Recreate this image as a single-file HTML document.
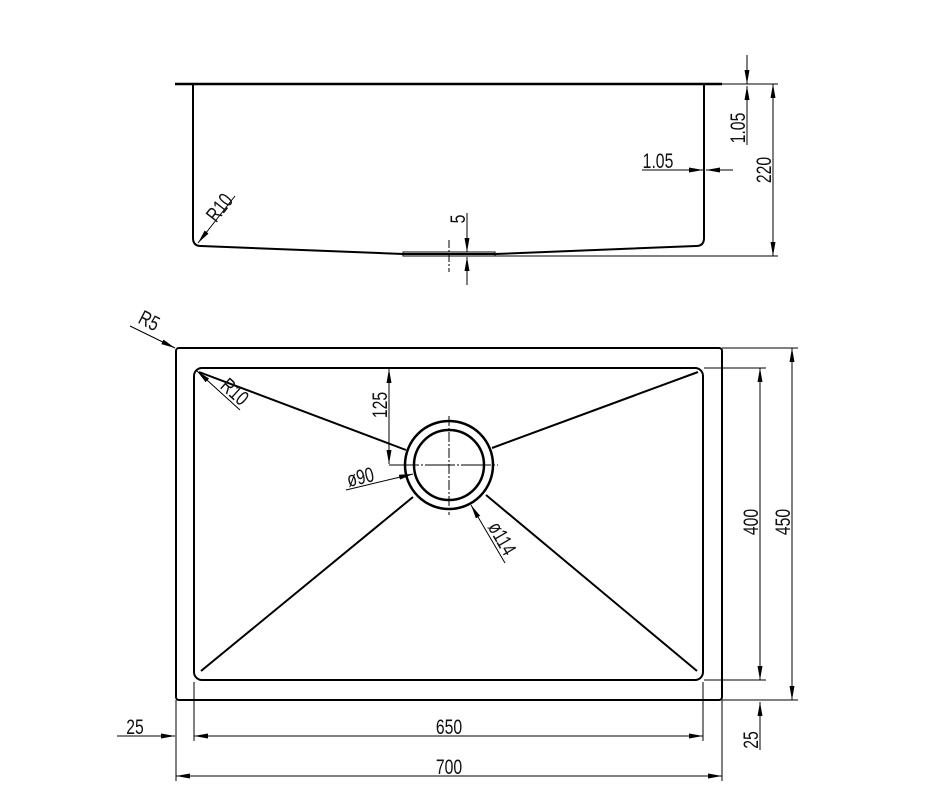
<!DOCTYPE html>
<html><head><style>
html,body{margin:0;padding:0;background:#fff;}
svg{display:block}
text{font-family:"Liberation Sans",sans-serif;font-size:21px;fill:#111;}
</style></head><body>
<svg width="940" height="808" viewBox="0 0 940 808" xmlns="http://www.w3.org/2000/svg">
<defs>
<marker id="a" markerWidth="14" markerHeight="6" refX="14" refY="3" orient="auto" markerUnits="userSpaceOnUse">
<path d="M0,0.5 L14,3 L0,5.5 Z" fill="#000"/></marker>
</defs>
<g stroke="#000" fill="none">
<line x1="175" y1="84" x2="722" y2="84" stroke-width="2.5"/>
<path d="M193,85 L193,238 Q193,246 201,246 L403,254 L495,254 L696,246 Q704,246 704,238 L704,85" stroke-width="2"/>
<rect x="403" y="252" width="92" height="4" stroke-width="1"/>
<line x1="705" y1="84" x2="778" y2="84" stroke-width="1"/>
<line x1="495" y1="256" x2="778" y2="256" stroke-width="1"/>
<line x1="773" y1="256" x2="773" y2="84" stroke-width="1" marker-end="url(#a)"/>
<line x1="773" y1="150" x2="773" y2="256" stroke-width="1" marker-end="url(#a)"/>
<line x1="747" y1="55" x2="747" y2="84" stroke-width="1" marker-end="url(#a)"/>
<line x1="747" y1="145" x2="747" y2="86" stroke-width="1" marker-end="url(#a)"/>
<line x1="642" y1="170" x2="703" y2="170" stroke-width="1" marker-end="url(#a)"/>
<line x1="733" y1="170" x2="706" y2="170" stroke-width="1" marker-end="url(#a)"/>
<line x1="235" y1="196" x2="198" y2="243" stroke-width="1" marker-end="url(#a)"/>
<line x1="467" y1="213" x2="467" y2="252" stroke-width="1" marker-end="url(#a)"/>
<line x1="467" y1="285" x2="467" y2="257" stroke-width="1" marker-end="url(#a)"/>
<line x1="449" y1="240" x2="449" y2="272" stroke-width="1" stroke-dasharray="8,2,2,2"/>

<rect x="176" y="348" width="546" height="352" rx="3" stroke-width="2"/>
<rect x="194" y="368" width="509" height="312" rx="8" stroke-width="2"/>
<circle cx="449" cy="465" r="44" stroke-width="2.5"/>
<circle cx="449" cy="465" r="35" stroke-width="2.5"/>
<line x1="449" y1="416" x2="449" y2="515" stroke-width="1" stroke-dasharray="10,2,2,2"/>
<line x1="389" y1="465" x2="498" y2="465" stroke-width="1" stroke-dasharray="30,2,2,2"/>
<line x1="199" y1="372" x2="406" y2="450" stroke-width="2"/>
<line x1="698" y1="372" x2="492" y2="448" stroke-width="2"/>
<line x1="201" y1="671" x2="413" y2="497" stroke-width="2"/>
<line x1="697" y1="671" x2="486" y2="495" stroke-width="2"/>
<line x1="389" y1="420" x2="389" y2="369" stroke-width="1" marker-end="url(#a)"/>
<line x1="389" y1="420" x2="389" y2="464" stroke-width="1" marker-end="url(#a)"/>
<line x1="346" y1="490" x2="413" y2="474" stroke-width="1" marker-end="url(#a)"/>
<line x1="505" y1="563" x2="471" y2="505" stroke-width="1" marker-end="url(#a)"/>
<line x1="130" y1="326" x2="175" y2="348" stroke-width="1" marker-end="url(#a)"/>
<line x1="240" y1="410" x2="197" y2="371" stroke-width="1" marker-end="url(#a)"/>
<line x1="704" y1="368" x2="766" y2="368" stroke-width="1"/>
<line x1="704" y1="680" x2="766" y2="680" stroke-width="1"/>
<line x1="760" y1="520" x2="760" y2="368" stroke-width="1" marker-end="url(#a)"/>
<line x1="760" y1="520" x2="760" y2="680" stroke-width="1" marker-end="url(#a)"/>
<line x1="722" y1="348" x2="798" y2="348" stroke-width="1"/>
<line x1="722" y1="700" x2="798" y2="700" stroke-width="1"/>
<line x1="792" y1="520" x2="792" y2="348" stroke-width="1" marker-end="url(#a)"/>
<line x1="792" y1="520" x2="792" y2="700" stroke-width="1" marker-end="url(#a)"/>
<line x1="760" y1="750" x2="760" y2="702" stroke-width="1" marker-end="url(#a)"/>
<line x1="194" y1="682" x2="194" y2="741" stroke-width="1"/>
<line x1="703" y1="682" x2="703" y2="741" stroke-width="1"/>
<line x1="176" y1="700" x2="176" y2="781" stroke-width="1"/>
<line x1="722" y1="700" x2="722" y2="781" stroke-width="1"/>
<line x1="450" y1="736" x2="194" y2="736" stroke-width="1" marker-end="url(#a)"/>
<line x1="450" y1="736" x2="703" y2="736" stroke-width="1" marker-end="url(#a)"/>
<line x1="450" y1="776" x2="176" y2="776" stroke-width="1" marker-end="url(#a)"/>
<line x1="450" y1="776" x2="722" y2="776" stroke-width="1" marker-end="url(#a)"/>
<line x1="117" y1="736" x2="175" y2="736" stroke-width="1" marker-end="url(#a)"/>
</g>
<g>
<text transform="translate(771,170) rotate(-90) scale(0.75,1)" text-anchor="middle">220</text>
<text transform="translate(745,128) rotate(-90) scale(0.75,1)" text-anchor="middle">1.05</text>
<text transform="translate(658,168) scale(0.75,1)" text-anchor="middle">1.05</text>
<line x1="642" y1="170" x2="676" y2="170" stroke="#000"/>
<text transform="translate(225,212) rotate(-52) scale(0.75,1)" text-anchor="middle">R10</text>
<text transform="translate(465,219) rotate(-90) scale(0.75,1)" text-anchor="middle">5</text>
<text transform="translate(146,327) rotate(27) scale(0.75,1)" text-anchor="middle">R5</text>
<text transform="translate(230,397) rotate(42) scale(0.75,1)" text-anchor="middle">R10</text>
<text transform="translate(387,405) rotate(-90) scale(0.75,1)" text-anchor="middle">125</text>
<text transform="translate(362,484) rotate(-13) scale(0.75,1)" text-anchor="middle">ø90</text>
<text transform="translate(496,542) rotate(60) scale(0.75,1)" text-anchor="middle">ø114</text>
<text transform="translate(758,522) rotate(-90) scale(0.75,1)" text-anchor="middle">400</text>
<text transform="translate(790,522) rotate(-90) scale(0.75,1)" text-anchor="middle">450</text>
<text transform="translate(758,740) rotate(-90) scale(0.75,1)" text-anchor="middle">25</text>
<text transform="translate(449,734) scale(0.75,1)" text-anchor="middle">650</text>
<text transform="translate(449,774) scale(0.75,1)" text-anchor="middle">700</text>
<text transform="translate(135,734) scale(0.75,1)" text-anchor="middle">25</text>
</g>
</svg>
</body></html>
